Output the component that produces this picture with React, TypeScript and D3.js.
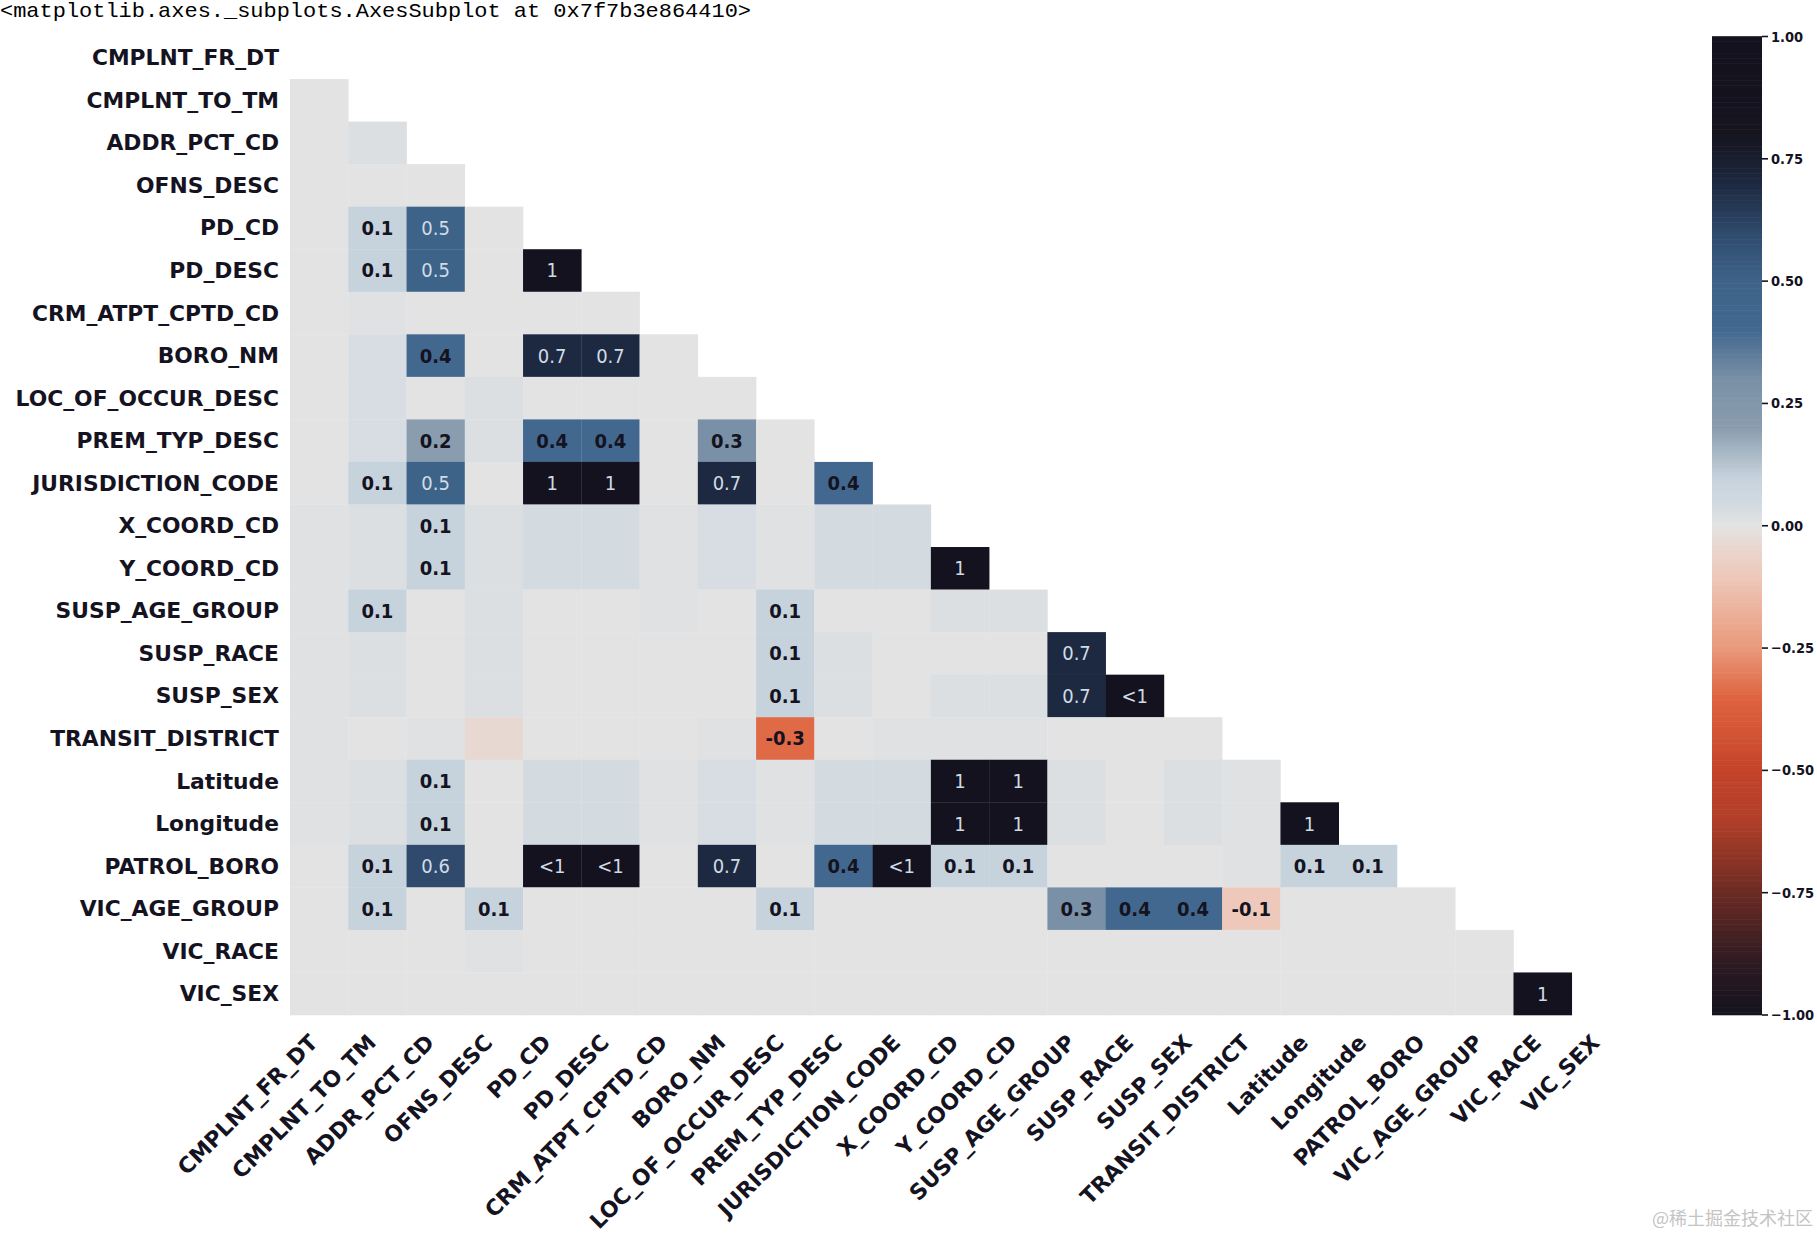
import React from "react";
import * as d3 from "d3";

const names = [
  "CMPLNT_FR_DT", "CMPLNT_TO_TM", "ADDR_PCT_CD", "OFNS_DESC", "PD_CD", "PD_DESC",
  "CRM_ATPT_CPTD_CD", "BORO_NM", "LOC_OF_OCCUR_DESC", "PREM_TYP_DESC", "JURISDICTION_CODE",
  "X_COORD_CD", "Y_COORD_CD", "SUSP_AGE_GROUP", "SUSP_RACE", "SUSP_SEX", "TRANSIT_DISTRICT",
  "Latitude", "Longitude", "PATROL_BORO", "VIC_AGE_GROUP", "VIC_RACE", "VIC_SEX",
];

// lower-triangle nullity correlations, row i holds columns 0..i-1
const corrRows: number[][] = [
  [],
  [0],
  [0, 0.02],
  [0, 0, 0],
  [0, 0.1, 0.5, 0],
  [0, 0.1, 0.5, 0, 1],
  [0, 0.01, 0, 0, 0, 0],
  [0, 0.03, 0.4, 0, 0.7, 0.7, 0],
  [0, 0.03, 0, 0.02, 0, 0, 0, 0],
  [0, 0.03, 0.2, 0.02, 0.4, 0.4, 0, 0.3, 0],
  [0, 0.1, 0.5, 0, 1, 1, 0, 0.7, 0, 0.4],
  [0.01, 0.02, 0.1, 0.02, 0.04, 0.04, 0.01, 0.03, 0.01, 0.04, 0.04],
  [0.01, 0.02, 0.1, 0.02, 0.04, 0.04, 0.01, 0.03, 0.01, 0.04, 0.04, 1],
  [0.01, 0.1, 0, 0.02, 0, 0, 0.01, 0, 0.1, 0, 0, 0.02, 0.02],
  [0.01, 0.02, 0, 0.02, 0, 0, 0, 0, 0.1, 0.02, 0, 0, 0, 0.7],
  [0.01, 0.02, 0, 0.02, 0, 0, 0, 0, 0.1, 0.02, 0, 0.02, 0.02, 0.7, 0.98],
  [0.01, 0, 0.01, -0.04, 0, 0, 0, 0.01, -0.34, 0, 0.01, 0.01, 0.01, 0, 0, 0],
  [0.01, 0.02, 0.1, 0, 0.04, 0.04, 0.01, 0.03, 0.01, 0.04, 0.04, 1, 1, 0.02, 0, 0.02, 0.01],
  [0.01, 0.02, 0.1, 0, 0.04, 0.04, 0.01, 0.03, 0.01, 0.04, 0.04, 1, 1, 0.02, 0, 0.02, 0.01, 1],
  [0, 0.1, 0.6, 0, 0.98, 0.98, 0, 0.7, 0, 0.4, 0.98, 0.1, 0.1, 0, 0, 0, 0.01, 0.1, 0.1],
  [0, 0.1, 0, 0.1, 0, 0, 0, 0, 0.1, 0, 0, 0, 0, 0.3, 0.4, 0.4, -0.1, 0, 0, 0],
  [0, 0, 0, 0.01, 0, 0, 0, 0, 0, 0, 0, 0, 0, 0, 0, 0, 0, 0, 0, 0, 0],
  [0, 0, 0, 0, 0, 0, 0, 0, 0, 0, 0, 0, 0, 0, 0, 0, 0, 0, 0, 0, 0, 1],
];

const cbarTicks = [-1, -0.75, -0.5, -0.25, 0, 0.25, 0.5, 0.75, 1];

const colorStops: [number, string][] = [
  [-1, "#15131f"], [-0.9, "#2b1a22"], [-0.75, "#6b2b24"], [-0.6, "#b23f29"],
  [-0.5, "#c4432a"], [-0.35, "#df6440"], [-0.25, "#e9997b"], [-0.1, "#eec9bb"],
  [-0.04, "#e8d8d2"], [0, "#e3e3e3"], [0.04, "#d3dbe1"], [0.1, "#c6d2dc"],
  [0.2, "#8a9dae"], [0.3, "#7990a6"], [0.4, "#436890"], [0.5, "#3e6389"],
  [0.6, "#2f4a6c"], [0.7, "#1d2940"], [0.8, "#16141f"], [1, "#14121e"],
];

const FONT_C = "'DejaVu Sans Condensed', 'DejaVu Sans', sans-serif";
const FONT = "'DejaVu Sans', sans-serif";
const INK = "#14131f";

function fmt(v: number): string {
  if (v === 1) return "1";
  if (v >= 0.95 && v < 1) return "<1";
  if (v <= -0.95 && v > -1) return ">-1";
  if (v === -1) return "-1";
  if (Math.abs(v) < 0.05) return "";
  return v.toFixed(1);
}

export default function App() {
  const W = 1817, H = 1233;
  const left = 290, right = 1630, top = 36.5, bottom = 1015;
  const x = d3.scaleBand<string>().domain(names).range([left, right]);
  const y = d3.scaleBand<string>().domain(names).range([top, bottom]);
  const bw = x.bandwidth(), bh = y.bandwidth();
  const color = d3.scaleLinear<string>()
    .domain(colorStops.map((d) => d[0]))
    .range(colorStops.map((d) => d[1]))
    .interpolate(d3.interpolateRgb)
    .clamp(true);

  const cbX = 1712, cbW = 50;
  const cbY = d3.scaleLinear().domain([-1, 1]).range([bottom, top]);
  const steps = d3.range(0, 400).map((i) => -1 + (i + 0.5) * (2 / 400));
  const stepH = (bottom - top) / 400;

  const cells: { r: number; c: number; v: number }[] = [];
  corrRows.forEach((row, r) => row.forEach((v, c) => cells.push({ r, c, v })));

  return (
    <svg width={W} height={H} style={{ position: "absolute", left: 0, top: 0, background: "#fff" }}>
      <rect x={0} y={0} width={W} height={H} fill="#fff" />
      <text x={0} y={17} fontFamily="'Liberation Mono', 'DejaVu Sans Mono', monospace" fontSize={21}
        textLength={751} lengthAdjust="spacingAndGlyphs" fill="#000">
        {"<matplotlib.axes._subplots.AxesSubplot at 0x7f7b3e864410>"}
      </text>

      {cells.map(({ r, c, v }) => (
        <rect key={`c${r}-${c}`} x={x(names[c])!} y={y(names[r])!} width={bw + 0.3} height={bh + 0.3}
          fill={color(v)} />
      ))}
      {cells.map(({ r, c, v }) => {
        const t = fmt(v);
        if (!t) return null;
        const light = v >= 0.45 || v <= -0.6;
        return (
          <text key={`t${r}-${c}`} x={x(names[c])! + bw / 2} y={y(names[r])! + bh / 2}
            textAnchor="middle" dominantBaseline="central" fontFamily={FONT_C}
            style={{ fontStretch: "condensed" }} fontSize={20}
            fontWeight={light ? "normal" : "bold"} fill={light ? "#cfdbe5" : INK}>
            {t}
          </text>
        );
      })}

      {names.map((n) => (
        <text key={`yl${n}`} x={279} y={y(n)! + bh / 2} textAnchor="end" dominantBaseline="central"
          fontFamily={FONT} fontSize={21.8} fontWeight="bold" fill={INK}>
          {n}
        </text>
      ))}
      {names.map((n) => (
        <text key={`xl${n}`} transform={`translate(${x(n)! + bw / 2},1044) rotate(-45)`} textAnchor="end"
          fontFamily={FONT} fontSize={21.8} fontWeight="bold" fill={INK}>
          {n}
        </text>
      ))}

      {steps.map((v, i) => (
        <rect key={`cb${i}`} x={cbX} y={cbY(v) - stepH / 2 - 0.3} width={cbW} height={stepH + 0.6} fill={color(v)} />
      ))}
      {cbarTicks.map((t) => (
        <g key={`ct${t}`} transform={`translate(${cbX + cbW},${cbY(t)})`}>
          <line x1={0} x2={6} y1={0} y2={0} stroke={INK} strokeWidth={1.6} />
          <text x={9} y={0} dominantBaseline="central" fontFamily={FONT_C} style={{ fontStretch: "condensed" }}
            fontSize={14.5} fontWeight="bold" fill={INK}>
            {d3.format(".2f")(t).replace("-", "\u2212")}
          </text>
        </g>
      ))}

      <text x={1652} y={1225} fontFamily="'Noto Sans CJK SC', sans-serif" fontSize={18} fill="#c4c4c4">
        @稀土掘金技术社区
      </text>
    </svg>
  );
}
